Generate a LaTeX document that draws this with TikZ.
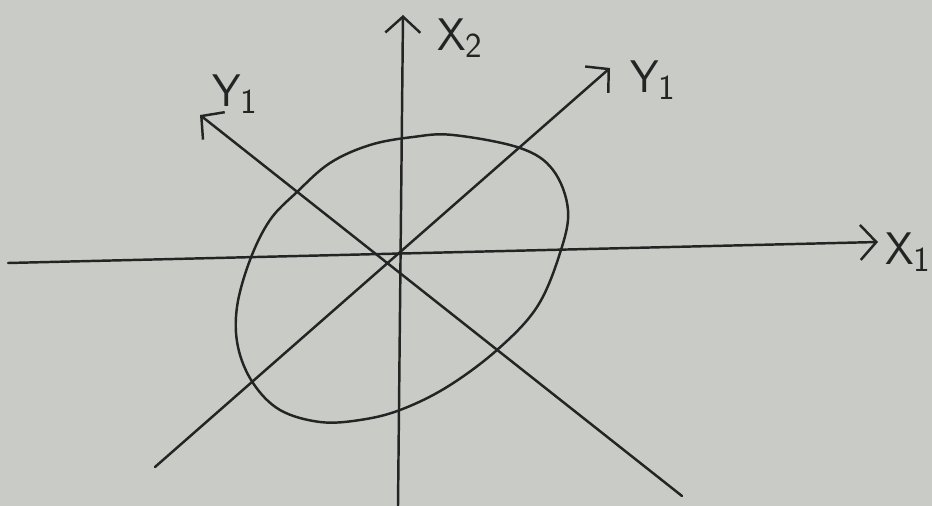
\documentclass[tikz,border=0pt]{standalone}
\usetikzlibrary{arrows.meta}

\definecolor{paper}{RGB}{201,203,198}
\definecolor{pencil}{RGB}{36,36,36}

\begin{document}
\begin{tikzpicture}[x=0.02cm,y=-0.02cm]

\def\lw{1.4pt}

\tikzstyle{axis} = [draw=pencil,line width=\lw,line cap=round,-{Straight Barb[length=3.2mm,width=7mm,line width=\lw]}];
\tikzstyle{alabel} = [text=pencil,inner sep=0pt,anchor=west,font=\sffamily\fontsize{26}{30}\selectfont];
\tikzstyle{contour} = [draw=pencil,line width=\lw];

\fill [paper] (0,0) rectangle (932,506);
\useasboundingbox (0,0) rectangle (932,506);

\coordinate (x1s) at (8,263);
\coordinate (x1e) at (878,242);
\coordinate (x2s) at (398,506);
\coordinate (x2e) at (403,15);
\coordinate (y1s) at (155,467);
\coordinate (y1e) at (610,68);
\coordinate (y2s) at (682,496);
\coordinate (y2e) at (200,115);

\draw [axis] (x1s) -- (x1e);
\draw [axis] (x2s) -- (x2e);
\draw [axis] (y1s) -- (y1e);
\draw [axis] (y2s) -- (y2e);

% hand drawn data contour
\draw [contour] plot [smooth cycle,tension=0.6] coordinates {
  (413,137) (453,135) (520,148) (553,170) (568,210) (560,253) (537,307)
  (497,350) (447,387) (400,410) (360,420) (320,422) (280,410) (253,383)
  (238,347) (237,307) (250,260) (270,220) (297,192) (330,163) (370,145)};

\node [alabel] (x1label) at (885,252) {X\raisebox{-0.35ex}{\fontsize{20}{22}\selectfont 1}};
\node [alabel] (x2label) at (437,38) {X\raisebox{-0.35ex}{\fontsize{20}{22}\selectfont 2}};
\node [alabel] (y1label) at (630,80) {Y\raisebox{-0.35ex}{\fontsize{20}{22}\selectfont 1}};
\node [alabel] (y2label) at (212,94) {Y\raisebox{-0.35ex}{\fontsize{20}{22}\selectfont 1}};

\end{tikzpicture}
\end{document}
